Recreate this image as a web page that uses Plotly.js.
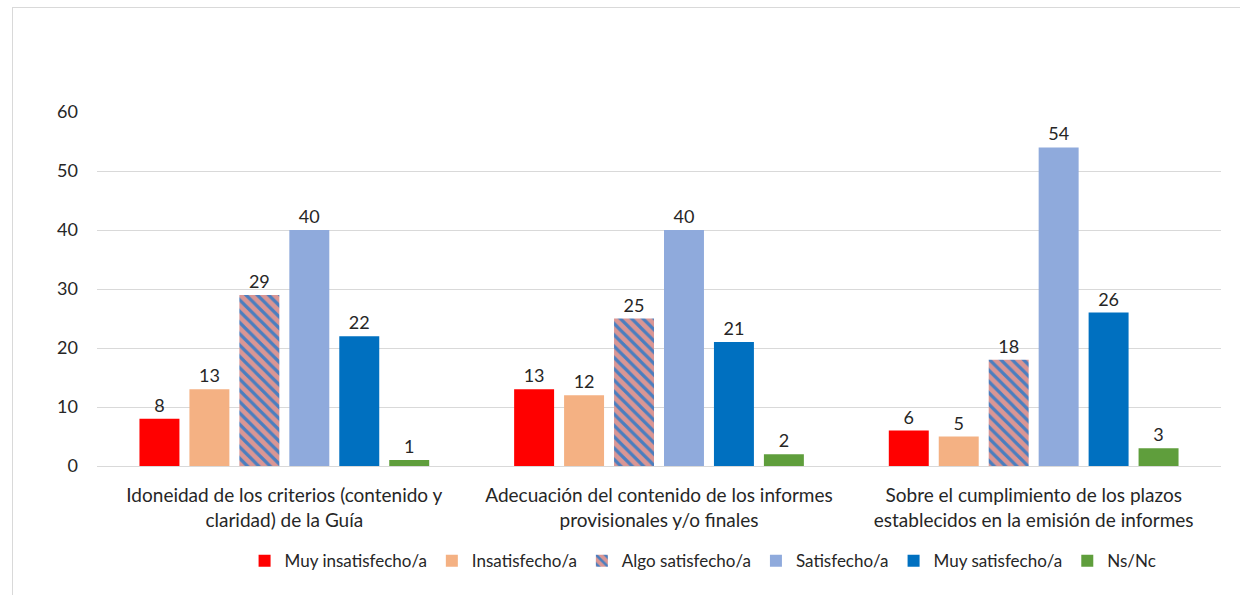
<!DOCTYPE html>
<html><head><meta charset="utf-8">
<script src="https://cdn.plot.ly/plotly-3.0.1.min.js"></script>
<style>
html,body{margin:0;padding:0;background:#fff;}
#frame{position:absolute;left:12px;top:7px;width:1240px;height:600px;border:1px solid #d9d9d9;box-sizing:border-box;}
#chart{position:absolute;left:0;top:0;width:1240px;height:595px;}
</style></head>
<body>
<div id="frame"></div>
<div id="chart"></div>
<script>
const categories = [
  "Idoneidad de los criterios (contenido y<br>claridad) de la Guía",
  "Adecuación del contenido de los informes<br>provisionales y/o finales",
  "Sobre el cumplimiento de los plazos<br>establecidos en la emisión de informes"
];
const seriesNames = ["Muy insatisfecho/a","Insatisfecho/a","Algo satisfecho/a","Satisfecho/a","Muy satisfecho/a","Ns/Nc"];
const muyInsatisfecho = [8, 13, 6];
const insatisfecho = [13, 12, 5];
const algoSatisfecho = [29, 25, 18];
const satisfecho = [40, 40, 54];
const muySatisfecho = [22, 21, 26];
const nsnc = [1, 2, 3];
const yTicks = [0, 10, 20, 30, 40, 50, 60];

const values = [muyInsatisfecho, insatisfecho, algoSatisfecho, satisfecho, muySatisfecho, nsnc];
const colors = ["#FF0000","#F4B183","#DA9694","#8FAADC","#0070C0","#5F9E3C"];

const font = "Lato, 'Noto Sans', sans-serif";
const traces = values.map((v, i) => {
  const marker = {color: colors[i]};
  if (i === 2) {
    marker.pattern = {shape: "\\", bgcolor: "#DA9694", fgcolor: "#4A7EBF", size: 8, solidity: 0.4};
  }
  return {
    type: "bar", name: seriesNames[i], x: categories, y: v,
    marker: marker, text: v.map(String), textposition: "outside",
    textfont: {family: font, size: 18, color: "#262626"}, cliponaxis: false
  };
});

const layout = {
  width: 1240, height: 595,
  paper_bgcolor: "rgba(0,0,0,0)", plot_bgcolor: "rgba(0,0,0,0)",
  margin: {l: 97, r: 19, t: 112, b: 129},
  barmode: "group", bargap: 0.2, bargroupgap: 0.2,
  font: {family: font, size: 16, color: "#262626"},
  showlegend: true,
  legend: {orientation: "h", x: 0.567, xanchor: "center", xref: "container",
           y: 0.057, yanchor: "middle", yref: "container",
           font: {family: font, size: 17, color: "#262626"}, itemwidth: 30, tracegroupgap: 0},
  xaxis: {showgrid: false, showline: true, linecolor: "#d9d9d9", linewidth: 1, automargin: false,
          ticks: "", ticklabelstandoff: 12, tickfont: {family: font, size: 19, color: "#262626"}},
  yaxis: {range: [0, 60], tickvals: yTicks, showgrid: true, gridcolor: "#d9d9d9", gridwidth: 1,
          zeroline: false, showline: false, ticks: "", ticklabelstandoff: 18, automargin: false,
          tickfont: {family: font, size: 18, color: "#262626"}}
};
Plotly.newPlot("chart", traces, layout, {displayModeBar: false, staticPlot: true});
</script>
</body></html>
